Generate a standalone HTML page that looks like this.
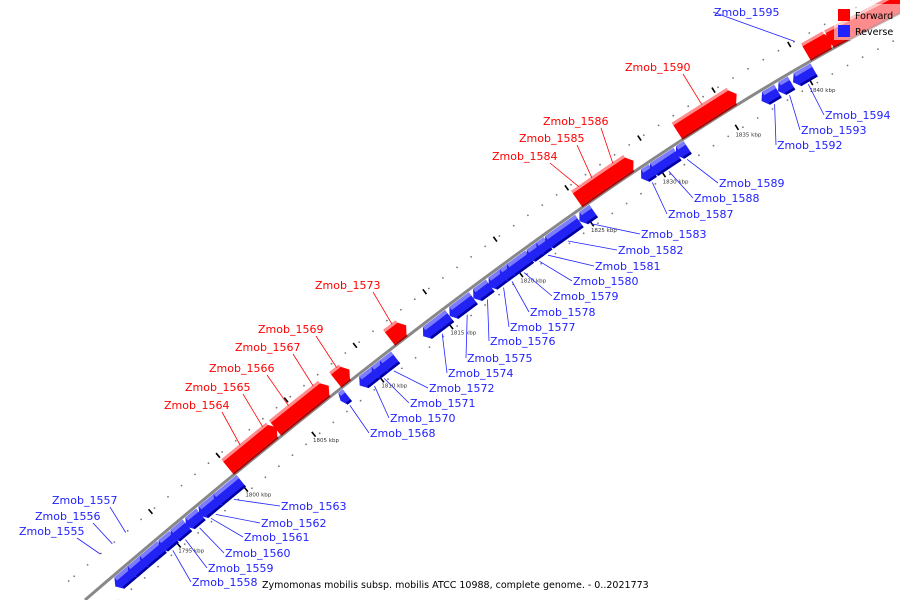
<!DOCTYPE html>
<html><head><meta charset="utf-8"><style>
body{margin:0;background:#fff}
svg{display:block;font-family:"DejaVu Sans","Liberation Sans",sans-serif}
</style></head><body>
<svg id="chart" width="900" height="600" viewBox="0 0 900 600">
<path id="axis" d="M 85 600 Q 584 171 900 13" fill="none" stroke="#888" stroke-width="3"/>
<g id="ticks"></g>
<g id="genes"></g>
<g id="labels"></g>
<rect x="834" y="4" width="66" height="36" fill="#fff" opacity="0.55"/>
<g>
<rect x="838" y="9" width="12" height="12" fill="#f00"/>
<text x="855" y="19" font-size="9.5">Forward</text>
<rect x="838" y="25" width="12" height="12" fill="#22f"/>
<text x="855" y="35" font-size="9.5">Reverse</text>
</g>
<text x="262" y="588" font-size="9.5" fill="#000">Zymomonas mobilis subsp. mobilis ATCC 10988, complete genome. - 0..2021773</text>
</svg>
<script>
const geneNames=["Zmob_1555","Zmob_1556","Zmob_1557","","","","Zmob_1558","Zmob_1559","Zmob_1560","Zmob_1561","Zmob_1562","Zmob_1563","Zmob_1564","Zmob_1565","Zmob_1566","Zmob_1567","Zmob_1569","Zmob_1568","Zmob_1570","Zmob_1571","Zmob_1572","Zmob_1573","Zmob_1574","Zmob_1575","Zmob_1576","Zmob_1577","Zmob_1578","Zmob_1579","Zmob_1580","Zmob_1581","Zmob_1582","Zmob_1583","Zmob_1584","Zmob_1585","Zmob_1586","Zmob_1587","Zmob_1588","Zmob_1589","Zmob_1590","Zmob_1592","Zmob_1593","Zmob_1594","Zmob_1595","",""];
const geneStart=[1791.2,1792.1,1793.1,1790.7,1791.7,1792.6,1794.0,1794.9,1796.0,1797.0,1797.0,1798.1,1800.0,1802.4,1803.5,1806.0,1807.9,1807.4,1808.8,1809.7,1810.3,1811.8,1813.4,1815.3,1817.0,1818.1,1818.9,1819.4,1820.8,1821.5,1822.1,1824.5,1825.1,1825.8,1826.9,1828.8,1829.4,1831.2,1832.0,1837.0,1838.1,1839.1,1840.3,1840.6,1842.1];
const geneEnd=[1791.3,1792.2,1793.2,1792.2,1792.9,1794.2,1795.1,1796.1,1797.1,1797.8,1798.5,1800.1,1802.7,1803.6,1806.3,1807.4,1808.9,1807.9,1810.1,1810.6,1811.4,1813.0,1815.3,1817.0,1818.2,1819.4,1819.8,1821.0,1821.8,1822.3,1824.5,1825.5,1826.1,1827.2,1829.0,1829.6,1831.3,1832.0,1836.0,1838.1,1839.0,1840.5,1840.4,1842.3,1848.0];
const geneStrand=["tiny","tiny","tiny","-","-","-","-","-","-","-","-","-","+","+","+","+","+","-","-","-","-","+","-","-","-","-","-","-","-","-","-","-","+","+","+","-","-","-","+","-","-","-","tiny","+","+"];
const tickKbp=[1795,1800,1805,1810,1815,1820,1825,1830,1835,1840];
const tickLabels=["1795 kbp","1800 kbp","1805 kbp","1810 kbp","1815 kbp","1820 kbp","1825 kbp","1830 kbp","1835 kbp","1840 kbp"];
// label layout (text anchor positions)
const labelX={"Zmob_1595":714,"Zmob_1590":625,"Zmob_1586":543,"Zmob_1585":519,"Zmob_1584":492,"Zmob_1573":315,"Zmob_1569":258,"Zmob_1567":235,"Zmob_1566":209,"Zmob_1565":185,"Zmob_1564":164,"Zmob_1557":52,"Zmob_1556":35,"Zmob_1555":19,"Zmob_1594":825,"Zmob_1593":801,"Zmob_1592":777,"Zmob_1589":719,"Zmob_1588":694,"Zmob_1587":668,"Zmob_1583":641,"Zmob_1582":618,"Zmob_1581":595,"Zmob_1580":573,"Zmob_1579":553,"Zmob_1578":530,"Zmob_1577":510,"Zmob_1576":490,"Zmob_1575":467,"Zmob_1574":448,"Zmob_1572":429,"Zmob_1571":410,"Zmob_1570":390,"Zmob_1568":370,"Zmob_1563":281,"Zmob_1562":261,"Zmob_1561":244,"Zmob_1560":225,"Zmob_1559":208,"Zmob_1558":192};
const labelY={"Zmob_1595":16,"Zmob_1590":71,"Zmob_1586":125,"Zmob_1585":142,"Zmob_1584":160,"Zmob_1573":289,"Zmob_1569":333,"Zmob_1567":351,"Zmob_1566":372,"Zmob_1565":391,"Zmob_1564":409,"Zmob_1557":504,"Zmob_1556":520,"Zmob_1555":535,"Zmob_1594":119,"Zmob_1593":134,"Zmob_1592":149,"Zmob_1589":187,"Zmob_1588":202,"Zmob_1587":218,"Zmob_1583":238,"Zmob_1582":254,"Zmob_1581":270,"Zmob_1580":285,"Zmob_1579":300,"Zmob_1578":316,"Zmob_1577":331,"Zmob_1576":345,"Zmob_1575":362,"Zmob_1574":377,"Zmob_1572":392,"Zmob_1571":407,"Zmob_1570":422,"Zmob_1568":437,"Zmob_1563":510,"Zmob_1562":527,"Zmob_1561":541,"Zmob_1560":557,"Zmob_1559":572,"Zmob_1558":586};

const NS="http://www.w3.org/2000/svg";
const P0=[85,600],C=[584,171],P2=[900,13];
function bez(t){const u=1-t;return [u*u*P0[0]+2*u*t*C[0]+t*t*P2[0],u*u*P0[1]+2*u*t*C[1]+t*t*P2[1]];}
function der(t){const u=1-t;return [2*u*(C[0]-P0[0])+2*t*(P2[0]-C[0]),2*u*(C[1]-P0[1])+2*t*(P2[1]-C[1])];}
const N=2000,ts=[],ss=[],xs=[];let acc=0,prev=bez(0);
for(let i=0;i<=N;i++){const t=i/N,p=bez(t);acc+=Math.hypot(p[0]-prev[0],p[1]-prev[1]);prev=p;ts.push(t);ss.push(acc);xs.push(p[0]);}
function sAtX(x){for(let i=0;i<N;i++){if(xs[i+1]>=x)return ss[i];}return ss[N];}
const sA=sAtX(167),sB=sAtX(802);
function tAtS(s){if(s<=0)return 0;for(let i=0;i<N;i++){if(ss[i+1]>=s){const f=(s-ss[i])/(ss[i+1]-ss[i]||1);return (i+f)/N;}}return 1+(s-ss[N])/ss[N];}
function frame(kbp){const s=sA+(kbp-1795)*(sB-sA)/45;const t=tAtS(s);const p=bez(t),d=der(t);const L=Math.hypot(d[0],d[1]);const T=[d[0]/L,d[1]/L];return {p:p,T:T,N:[-T[1],T[0]]};}
function pt(kbp,off){const f=frame(kbp);return [f.p[0]+f.N[0]*off,f.p[1]+f.N[1]*off];}
function poly(pts){return pts.map(q=>q[0].toFixed(1)+","+q[1].toFixed(1)).join(" ");}
function mk(tag,attrs,parent){const e=document.createElementNS(NS,tag);for(const k in attrs)e.setAttribute(k,attrs[k]);parent.appendChild(e);return e;}

const gTicks=document.getElementById("ticks"),gGenes=document.getElementById("genes"),gLab=document.getElementById("labels");
// dots every kbp
for(let k=1788;k<=1850;k++){
  [-25,22].forEach(function(off){
    const q=pt(k+0.3,off);
    const d=mk("circle",{cx:q[0].toFixed(1),cy:q[1].toFixed(1),r:0.9,fill:"#777"},gTicks);
    
    
  });
}
tickKbp.forEach(function(k,i){
  const a=pt(k,-22),b=pt(k,-28),c=pt(k,16),e=pt(k,22);
  const l1=mk("line",{x1:a[0],y1:a[1],x2:b[0],y2:b[1],stroke:"#000","stroke-width":1.6},gTicks);
  
  
  const l2=mk("line",{x1:c[0],y1:c[1],x2:e[0],y2:e[1],stroke:"#000","stroke-width":1.6},gTicks);
  
  
  const q=pt(k+0.35,31);
  const tx=mk("text",{x:q[0].toFixed(1),y:(q[1]+2).toFixed(1),"font-size":5.5,"text-anchor":"middle",fill:"#333"},gTicks);
  tx.textContent=tickLabels[i];
  
  
});
// genes
geneNames.forEach(function(name,i){
  const st=geneStrand[i],a=geneStart[i],b=geneEnd[i];
  const sign=st==="+"?-1:1;
  if(st!=="tiny"){
    const o1=2*sign,o2=17*sign,om=9.5*sign;
    const len=b-a,ch=Math.min(0.3,len*0.35);
    let body;
    if(st==="+"){body=[pt(a,o1),pt(b-ch,o1),pt(b,om),pt(b-ch,o2),pt(a,o2)];}
    else{body=[pt(a+ch,o1),pt(b,o1),pt(b,o2),pt(a+ch,o2),pt(a,om)];}
    const col=st==="+"?["#f00","#ff8c8c","#b00000"]:["#2222f5","#7c7cff","#0000a0"];
    const g=mk("g",{},gGenes);
    
    
    mk("polygon",{points:poly(body),fill:col[0]},g);
    // light upper face
    const up=st==="+"?[o2,o2+3*sign]:[o1,o1+4*sign];
    const f=st==="+"?[pt(a,up[0]),pt(b-ch,up[0]),pt(b-ch,up[1]),pt(a,up[1])]:[pt(a+ch,up[0]),pt(b,up[0]),pt(b,up[1]),pt(a+ch,up[1])];
    mk("polygon",{points:poly(f),fill:col[1]},g);
    const lo=st==="+"?[o1,o1-2*sign]:[o2,o2-2.5*sign];
    const f2=st==="+"?[pt(a,lo[0]),pt(b-ch,lo[0]),pt(b-ch,lo[1]),pt(a,lo[1])]:[pt(a+ch,lo[0]),pt(b,lo[0]),pt(b,lo[1]),pt(a+ch,lo[1])];
    mk("polygon",{points:poly(f2),fill:col[2]},g);
  }
  if(name && labelX[name]!==undefined){
    const lx=labelX[name],ly=labelY[name];
    const red=st==="+";
    const color=red?"#f00":"#22f";
    const mid=(a+b)/2;
    const target=st==="tiny"?pt(mid,-25):pt(mid,red?-19:19);
    const leftSide=red||(st==="tiny"&&lx<700);
    const sx=leftSide?lx+58:lx-1,sy=leftSide?ly+3:ly-4;
    const ln=mk("line",{x1:sx,y1:sy,x2:target[0].toFixed(1),y2:target[1].toFixed(1),stroke:color,"stroke-width":0.8},gLab);
    
    
    const tx=mk("text",{x:lx,y:ly,"font-size":11,fill:color},gLab);
    tx.textContent=name;
    
    
  }
});
</script>
</body></html>
